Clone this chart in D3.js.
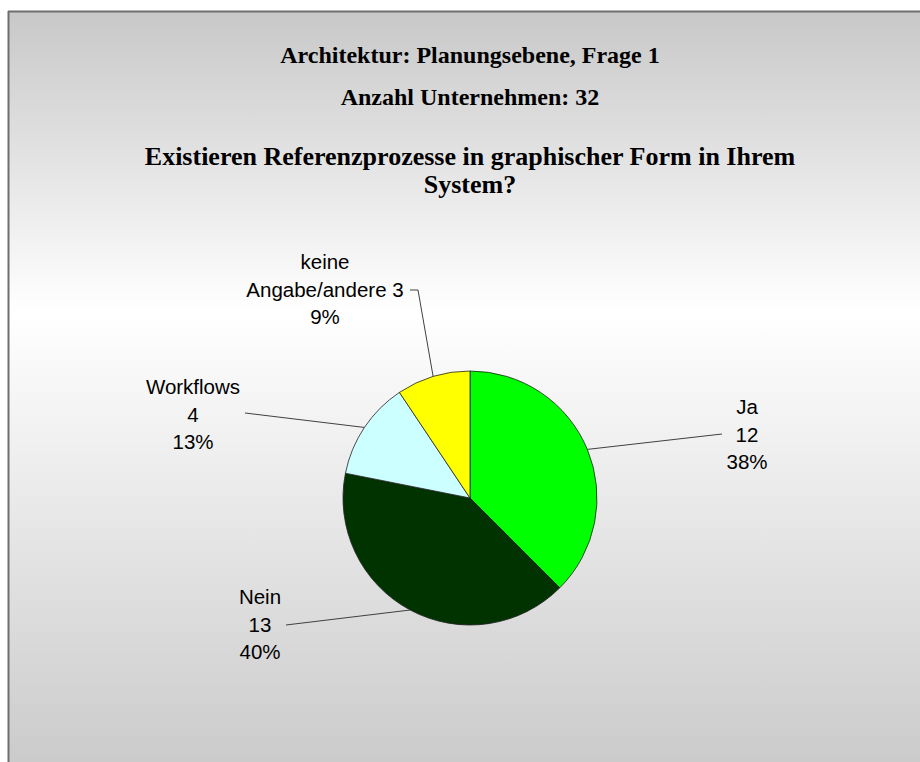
<!DOCTYPE html>
<html>
<head>
<meta charset="utf-8">
<script src="https://cdn.jsdelivr.net/npm/d3@7/dist/d3.min.js"></script>
<style>
  html, body { margin: 0; padding: 0; background: #ffffff; }
  svg { display: block; }
</style>
</head>
<body>
<script>
// ---- data ----
const categories = ["Ja", "Nein", "Workflows", "keine Angabe/andere"];
const values = [12, 13, 4, 3];
const percentLabels = ["38%", "40%", "13%", "9%"];
const labelLines = [
  ["Ja", "12", "38%"],
  ["Nein", "13", "40%"],
  ["Workflows", "4", "13%"],
  ["keine", "Angabe/andere 3", "9%"]
];
const colors = ["#00ff00", "#003300", "#ccffff", "#ffff00"];
const titleLines = [
  "Architektur: Planungsebene, Frage 1",
  "Anzahl Unternehmen: 32",
  "Existieren Referenzprozesse in graphischer Form in Ihrem",
  "System?"
];

// ---- layout ----
const W = 920, H = 762;
const cx = 470, cy = 498, R = 127;
const labelPos = [
  { x: 747, y: 407, start: [[722, 434]] },
  { x: 260, y: 597, start: [[286, 625]] },
  { x: 193, y: 387, start: [[245, 413]] },
  { x: 325, y: 262, start: [[410, 290], [418, 290]] }
];
const lineGap = 27.5;

const svg = d3.select("body").append("svg").attr("width", W).attr("height", H);

const defs = svg.append("defs");
const grad = defs.append("linearGradient").attr("id", "bg")
  .attr("x1", 0).attr("y1", 0).attr("x2", 0).attr("y2", 1);
grad.append("stop").attr("offset", "0%").attr("stop-color", "#c8c8c8");
grad.append("stop").attr("offset", "40%").attr("stop-color", "#ffffff");
grad.append("stop").attr("offset", "100%").attr("stop-color", "#cbcbcb");

svg.append("rect").attr("x", 0).attr("y", 0).attr("width", W).attr("height", H).attr("fill", "#ffffff");
svg.append("rect").attr("x", 9).attr("y", 12).attr("width", W - 9).attr("height", H - 12)
  .attr("fill", "url(#bg)");
// border (top and left visible)
svg.append("line").attr("x1", 8).attr("y1", 11.5).attr("x2", W).attr("y2", 11.5)
  .attr("stroke", "#6e6e6e").attr("stroke-width", 2);
svg.append("line").attr("x1", 8.5).attr("y1", 11).attr("x2", 8.5).attr("y2", H)
  .attr("stroke", "#6e6e6e").attr("stroke-width", 2);

// titles
const serif = "'Liberation Serif', 'DejaVu Serif', serif";
const titleSpec = [
  { y: 63, size: 24, len: 391 },
  { y: 105, size: 24, len: 250 },
  { y: 165, size: 26, len: 655 },
  { y: 193, size: 26, len: 0 }
];
titleLines.forEach((t, i) => {
  const el = svg.append("text")
    .attr("x", 470).attr("y", titleSpec[i].y)
    .attr("text-anchor", "middle")
    .attr("font-family", serif)
    .attr("font-weight", "bold")
    .attr("font-size", titleSpec[i].size)
    .attr("fill", "#000")
    .text(t);
});

// pie
const pie = d3.pie().sort(null).value(d => d)(values);
const arc = d3.arc().innerRadius(0).outerRadius(R);
const g = svg.append("g").attr("transform", `translate(${cx},${cy})`);
g.selectAll("path").data(pie).join("path")
  .attr("d", arc)
  .attr("fill", (d, i) => colors[i])
  .attr("stroke", "#222")
  .attr("stroke-width", 0.8);

// leader lines
pie.forEach((d, i) => {
  const a = (d.startAngle + d.endAngle) / 2;
  const ex = cx + R * Math.sin(a), ey = cy - R * Math.cos(a);
  const pts = labelPos[i].start.concat([[ex, ey]]);
  svg.append("path")
    .attr("d", d3.line()(pts))
    .attr("fill", "none")
    .attr("stroke", "#404040")
    .attr("stroke-width", 1);
});

// labels
const sans = "'Liberation Sans', Arial, sans-serif";
labelLines.forEach((lines, i) => {
  const t = svg.append("text")
    .attr("text-anchor", "middle")
    .attr("font-family", sans)
    .attr("font-size", 20.5)
    .attr("fill", "#000");
  lines.forEach((ln, k) => {
    t.append("tspan")
      .attr("x", labelPos[i].x)
      .attr("y", labelPos[i].y + k * lineGap)
      .attr("dy", "0.35em")
      .text(ln);
  });
});
</script>
</body>
</html>
